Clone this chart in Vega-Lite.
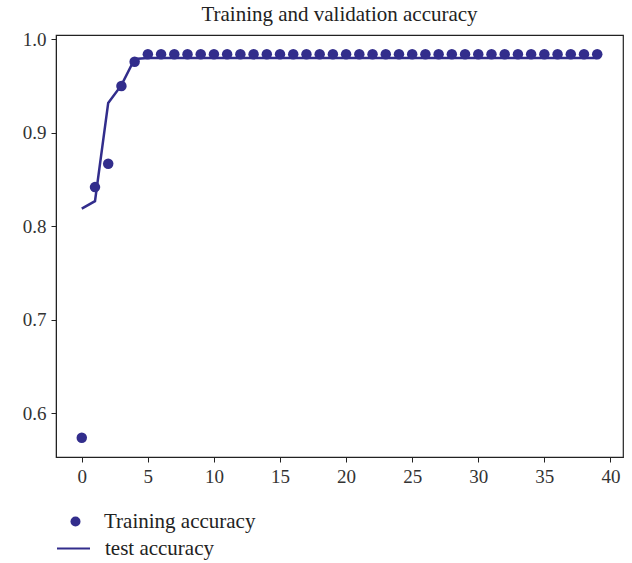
{
  "$schema": "https://vega.github.io/schema/vega-lite/v6.json",
  "width": 567,
  "height": 422,
  "autosize": {"type": "none"},
  "padding": {"left": 56, "top": 35, "right": 9, "bottom": 106},
  "background": "white",
  "title": {"text": "Training and validation accuracy", "font": "Liberation Serif", "fontSize": 21, "fontWeight": "normal", "color": "#222", "offset": 5},
  "config": {
    "view": {"stroke": "#222", "strokeWidth": 1.2},
    "axis": {"labelFont": "Liberation Serif", "labelFontSize": 19, "labelColor": "#333", "tickColor": "#222", "domainColor": "#222", "tickSize": 5, "grid": false, "title": null, "labelPadding": 5}
  },
  "data": {"values": [
    {"epoch": 0, "train": 0.574, "test": 0.819},
    {"epoch": 1, "train": 0.842, "test": 0.827},
    {"epoch": 2, "train": 0.867, "test": 0.932},
    {"epoch": 3, "train": 0.950, "test": 0.951},
    {"epoch": 4, "train": 0.976, "test": 0.979},
    {"epoch": 5, "train": 0.984, "test": 0.980},
    {"epoch": 6, "train": 0.984, "test": 0.980},
    {"epoch": 7, "train": 0.984, "test": 0.980},
    {"epoch": 8, "train": 0.984, "test": 0.980},
    {"epoch": 9, "train": 0.984, "test": 0.980},
    {"epoch": 10, "train": 0.984, "test": 0.980},
    {"epoch": 11, "train": 0.984, "test": 0.980},
    {"epoch": 12, "train": 0.984, "test": 0.980},
    {"epoch": 13, "train": 0.984, "test": 0.980},
    {"epoch": 14, "train": 0.984, "test": 0.980},
    {"epoch": 15, "train": 0.984, "test": 0.980},
    {"epoch": 16, "train": 0.984, "test": 0.980},
    {"epoch": 17, "train": 0.984, "test": 0.980},
    {"epoch": 18, "train": 0.984, "test": 0.980},
    {"epoch": 19, "train": 0.984, "test": 0.980},
    {"epoch": 20, "train": 0.984, "test": 0.980},
    {"epoch": 21, "train": 0.984, "test": 0.980},
    {"epoch": 22, "train": 0.984, "test": 0.980},
    {"epoch": 23, "train": 0.984, "test": 0.980},
    {"epoch": 24, "train": 0.984, "test": 0.980},
    {"epoch": 25, "train": 0.984, "test": 0.980},
    {"epoch": 26, "train": 0.984, "test": 0.980},
    {"epoch": 27, "train": 0.984, "test": 0.980},
    {"epoch": 28, "train": 0.984, "test": 0.980},
    {"epoch": 29, "train": 0.984, "test": 0.980},
    {"epoch": 30, "train": 0.984, "test": 0.980},
    {"epoch": 31, "train": 0.984, "test": 0.980},
    {"epoch": 32, "train": 0.984, "test": 0.980},
    {"epoch": 33, "train": 0.984, "test": 0.980},
    {"epoch": 34, "train": 0.984, "test": 0.980},
    {"epoch": 35, "train": 0.984, "test": 0.980},
    {"epoch": 36, "train": 0.984, "test": 0.980},
    {"epoch": 37, "train": 0.984, "test": 0.980},
    {"epoch": 38, "train": 0.984, "test": 0.980},
    {"epoch": 39, "train": 0.984, "test": 0.980}
  ]},
  "encoding": {
    "x": {"field": "epoch", "type": "quantitative", "scale": {"domain": [-1.95, 40.95], "nice": false, "zero": false}, "axis": {"values": [0, 5, 10, 15, 20, 25, 30, 35, 40]}}
  },
  "layer": [
    {
      "mark": {"type": "line", "strokeWidth": 2.5, "clip": true},
      "encoding": {
        "y": {"field": "test", "type": "quantitative", "scale": {"domain": [0.5535, 1.0046], "nice": false, "zero": false}, "axis": {"values": [0.6, 0.7, 0.8, 0.9, 1.0], "format": ".1f"}},
        "stroke": {"datum": "test accuracy", "type": "nominal", "scale": {"range": ["#322d8c"]}, "legend": {"orient": "none", "legendX": 0, "legendY": 496, "symbolType": "stroke", "symbolSize": 1089, "symbolStrokeWidth": 2, "labelFont": "Liberation Serif", "labelFontSize": 21, "labelColor": "#222", "title": null, "labelOffset": 14}}
      }
    },
    {
      "mark": {"type": "point", "filled": true, "size": 110, "opacity": 1, "clip": true},
      "encoding": {
        "y": {"field": "train", "type": "quantitative"},
        "fill": {"datum": "Training accuracy", "type": "nominal", "scale": {"range": ["#322d8c"]}, "legend": {"orient": "none", "legendX": 9, "legendY": 476, "symbolType": "circle", "symbolSize": 100, "symbolOpacity": 1, "labelFont": "Liberation Serif", "labelFontSize": 21, "labelColor": "#222", "title": null, "labelOffset": 18}}
      }
    }
  ],
  "resolve": {"scale": {"fill": "independent", "stroke": "independent"}}
}
